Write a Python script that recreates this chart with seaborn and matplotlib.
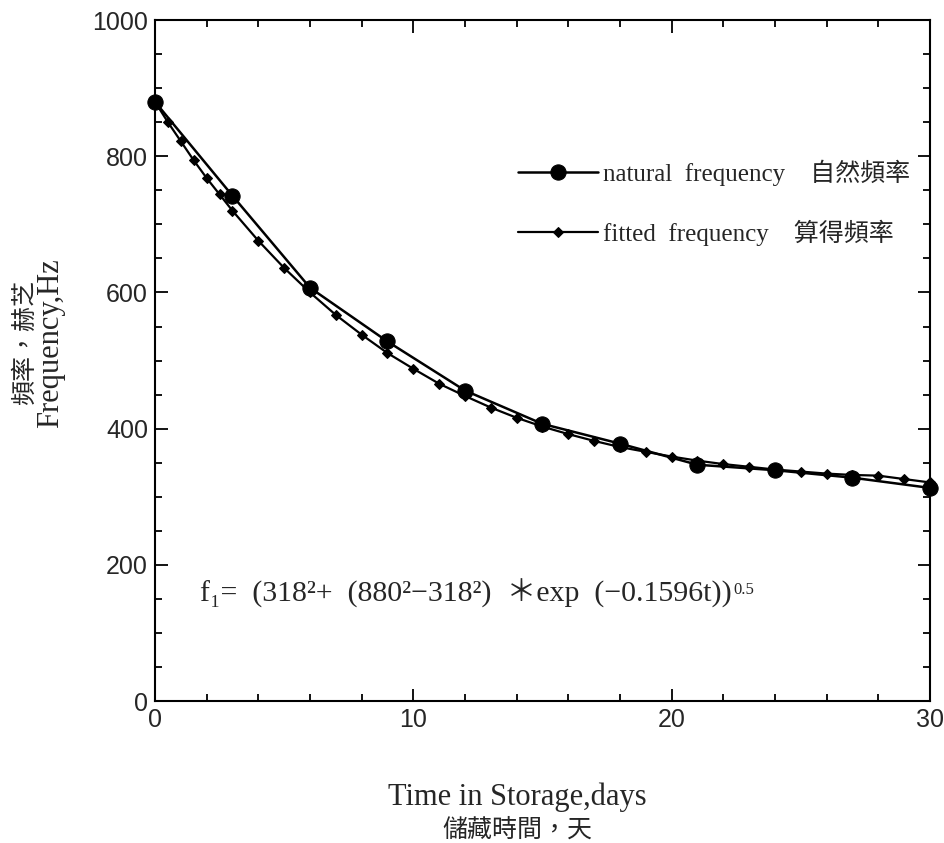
import pandas as pd
import matplotlib
matplotlib.use("Agg")
import matplotlib.pyplot as plt
import seaborn as sns
from matplotlib.ticker import MultipleLocator

# measured points (natural frequency) every 3 days
days_nat = [0, 3, 6, 9, 12, 15, 18, 21, 24, 27, 30]
freq_nat = [880, 742, 607, 528, 456, 407, 378, 347, 339, 328, 313]

# fitted curve points
days_fit = [0, 0.5, 1, 1.5, 2, 2.5, 3, 4, 5, 6, 7, 8, 9, 10, 11, 12, 13, 14,
            15, 16, 17, 18, 19, 20, 21, 22, 23, 24, 25, 26, 27, 28, 29, 30]
freq_fit = [880, 850, 822, 794, 768, 744, 720, 676, 636, 600, 567, 538, 511,
            488, 466, 448, 431, 416, 403, 392, 382, 373, 366, 359, 353, 348,
            344, 340, 337, 334, 332, 331, 326, 321]

label_nat = "natural  frequency    自然頻率"
label_fit = "fitted  frequency    算得頻率"

sns.set_theme(style="ticks")
serif = ["Liberation Serif", "DejaVu Serif", "Noto Sans CJK TC"]
plt.rcParams["font.family"] = serif

df_nat = pd.DataFrame({"t": days_nat, "f": freq_nat})
df_fit = pd.DataFrame({"t": days_fit, "f": freq_fit})

fig = plt.figure(figsize=(9.45, 8.43), dpi=100)
ax = fig.add_axes([0.164, 0.1684, 0.82, 0.8078])

sns.lineplot(data=df_nat, x="t", y="f", ax=ax, color="black", lw=1.8,
             marker="o", markersize=11, markeredgecolor="black",
             label=label_nat)
sns.lineplot(data=df_fit, x="t", y="f", ax=ax, color="black", lw=1.6,
             marker="D", markersize=5.5, markeredgecolor="black",
             label=label_fit)
for ln in ax.lines:
    ln.set_clip_on(False)

ax.set_xlim(0, 30)
ax.set_ylim(0, 1000)
ax.xaxis.set_major_locator(MultipleLocator(10))
ax.xaxis.set_minor_locator(MultipleLocator(2))
ax.yaxis.set_major_locator(MultipleLocator(200))
ax.yaxis.set_minor_locator(MultipleLocator(50))
ax.tick_params(which="both", direction="in", top=True, right=True,
               color="black", width=1.3)
ax.tick_params(which="major", length=9, labelsize=18, pad=5)
ax.tick_params(which="minor", length=5)
for lab in ax.get_xticklabels() + ax.get_yticklabels():
    lab.set_family(["Liberation Sans", "DejaVu Sans"])
for sp in ax.spines.values():
    sp.set_color("black")
    sp.set_linewidth(1.5)

# axis titles: English line and Chinese line drawn separately
ax.set_xlabel("")
ax.set_ylabel("")
ax.text(0.467, -0.141, "Time in Storage,days", transform=ax.transAxes,
        fontsize=22, ha="center", va="center", family=serif)
ax.text(0.467, -0.189, "儲藏時間，天", transform=ax.transAxes,
        fontsize=18, ha="center", va="center", family=serif)
ax.text(-0.168, 0.526, "頻率，赫芝", transform=ax.transAxes, rotation=90,
        fontsize=18, ha="center", va="center", family=serif)
ax.text(-0.135, 0.526, "Frequency,Hz", transform=ax.transAxes, rotation=90,
        fontsize=22, ha="center", va="center", family=serif)

formula = ax.text(1.74, 158,
                  "f₁=  (318²+  (880²−318²)  ＊exp  (−0.1596t))",
                  fontsize=21.5, va="center", ha="left", family=serif)
ax.annotate("0.5", xy=(1, 1), xycoords=formula, xytext=(1, -2),
            textcoords="offset points", fontsize=12, va="top", ha="left",
            family=serif)

leg = ax.legend(loc="upper left", bbox_to_anchor=(0.44, 0.828),
                frameon=False, fontsize=18, handlelength=3.2,
                handletextpad=0.2, labelspacing=1.35)

fig.savefig("out.png", dpi=100, facecolor="white")
